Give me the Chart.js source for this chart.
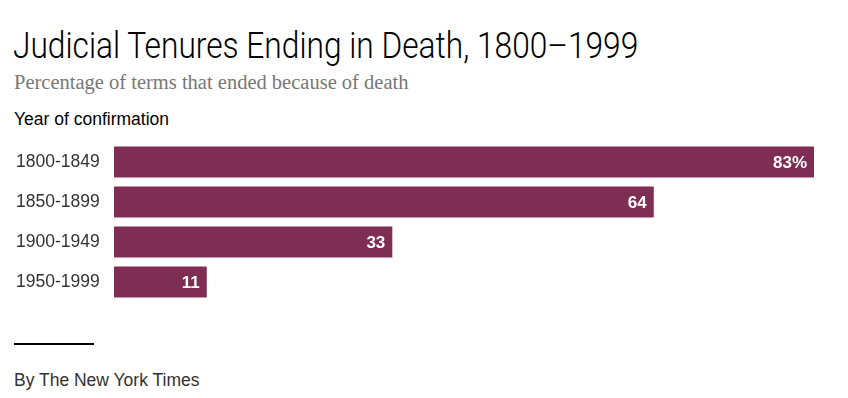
<!DOCTYPE html>
<html>
<head>
<meta charset="utf-8">
<script src="https://cdn.jsdelivr.net/npm/chart.js@4/dist/chart.umd.min.js"></script>
<style>
  body { margin: 0; background: #fff; width: 848px; height: 398px; position: relative; overflow: hidden; }
  .title { position: absolute; left: 13px; top: 25px; font-family: "Roboto", sans-serif; font-weight: 300; font-size: 36px; color: #000; white-space: nowrap; transform: scaleX(0.88); transform-origin: left top; }
  .sub { position: absolute; left: 14px; top: 71px; font-family: "Liberation Serif", serif; font-size: 20.5px; color: #777; white-space: nowrap; }
  .axis { position: absolute; left: 14px; top: 109px; font-family: "Liberation Sans", sans-serif; font-size: 17.5px; color: #000; white-space: nowrap; }
  .rule { position: absolute; left: 14px; top: 343px; width: 80px; height: 2px; background: #000; }
  .credit { position: absolute; left: 14px; top: 370px; font-family: "Liberation Sans", sans-serif; font-size: 17.5px; color: #333; white-space: nowrap; }
  #chart { position: absolute; left: 0; top: 142px; }
</style>
</head>
<body>
<div class="title">Judicial Tenures Ending in Death, 1800–1999</div>
<div class="sub">Percentage of terms that ended because of death</div>
<div class="axis">Year of confirmation</div>
<canvas id="chart" width="848" height="160"></canvas>
<div class="rule"></div>
<div class="credit">By The New York Times</div>
<script>
const periods = ["1800-1849", "1850-1899", "1900-1949", "1950-1999"];
const deathShare = [83, 64, 33, 11];
const valueLabels = ["83%", "64", "33", "11"];

const barLabels = {
    id: "barLabels",
    afterDatasetsDraw(chart) {
        const ctx = chart.ctx;
        const meta = chart.getDatasetMeta(0);
        ctx.save();
        ctx.fillStyle = "#fff";
        ctx.font = "bold 17px 'Liberation Sans', Arial, sans-serif";
        ctx.textAlign = "right";
        ctx.textBaseline = "middle";
        meta.data.forEach((bar, i) => {
            ctx.fillText(valueLabels[i], bar.x - 7, bar.y + 1);
        });
        ctx.restore();
    }
};

new Chart(document.getElementById("chart"), {
    type: "bar",
    data: {
        labels: periods,
        datasets: [{
            data: deathShare,
            backgroundColor: "#7e2e52",
            categoryPercentage: 1,
            barPercentage: 0.775
        }]
    },
    options: {
        responsive: false,
        indexAxis: "y",
        animation: false,
        layout: { padding: { left: 16, right: 34, top: 0, bottom: 0 } },
        plugins: {
            legend: { display: false },
            tooltip: { enabled: false }
        },
        scales: {
            x: { display: false, min: 0, max: 83 },
            y: {
                grid: { display: false },
                border: { display: false },
                afterFit(scale) {
                    scale.width = 98;
                    scale.paddingTop = 0;
                    scale.paddingBottom = 0;
                },
                ticks: {
                    crossAlign: "far",
                    padding: 0,
                    color: "#333",
                    font: { family: "'Liberation Sans', Arial, sans-serif", size: 17.5 }
                }
            }
        }
    },
    plugins: [barLabels]
});
</script>
</body>
</html>
